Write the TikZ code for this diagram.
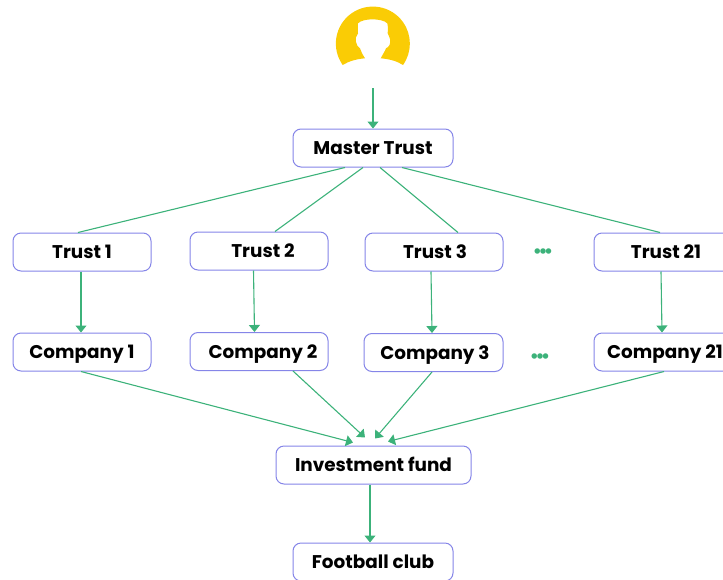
\documentclass[tikz,border=0pt]{standalone}
\usepackage{xcolor}
\usepackage{fontspec}
\setmainfont{Poppins}
\usetikzlibrary{arrows.meta,positioning}
\definecolor{ownergold}{HTML}{FACC05}
\definecolor{linkgreen}{HTML}{3CB27A}
\definecolor{boxviolet}{HTML}{8585E8}
\tikzset{
    entity/.style={draw=boxviolet, fill=white, rounded corners=8pt, line width=1pt, minimum height=38pt, inner sep=0pt, text height=13.5pt, text depth=0pt, font=\fontsize{18.4}{20}\selectfont\bfseries, text=black},
    link/.style={draw=linkgreen, line width=1.1pt},
    flow/.style={link, -{Triangle[width=11pt,length=7pt]}},
    more/.style={text=linkgreen, inner sep=0pt, font=\fontsize{18}{20}\selectfont\bfseries}
}
\begin{document}
\begin{tikzpicture}[x=1pt,y=-1pt]

            \clip (0,0) rectangle (723,579);

            % owner icon
            \fill[ownergold] (342.7,65) arc (144.6:395.4:37)
                .. controls (397,61) and (389,59) .. (380.7,58.3)
                .. controls (383,54) and (385,51) .. (386,48.3)
                .. controls (389,47) and (391,44) .. (390,39)
                .. controls (389.5,36) and (388,35) .. (387.7,33.3)
                .. controls (388,30) and (388,26) .. (387.3,23.3)
                .. controls (382,18) and (363,18) .. (358,23.3)
                .. controls (357.5,26) and (358,30) .. (358,33.3)
                .. controls (356,36) and (355,39) .. (356,42)
                .. controls (356.5,45) and (358,47) .. (360,48.3)
                .. controls (361,52) and (363,55) .. (365,58.3)
                .. controls (357,59) and (349,61) .. (342.7,65) -- cycle;

            \coordinate (owner) at (373,88);

            \node[entity, minimum width=160pt] (master) at (373,148) {Master Trust};

            \node[entity, minimum width=138pt] (t1) at (82,252) {Trust 1};
            \node[entity, minimum width=138pt] (t2) at (259,251) {\hspace*{8pt}Trust 2};
            \node[entity, minimum width=138pt] (t3) at (434,252) {\hspace*{2pt}Trust 3};
            \node[entity, minimum width=138pt] (t21) at (663,252) {\hspace*{6pt}Trust 21};

            \node[entity, minimum width=138pt] (c1) at (82,352) {Company 1};
            \node[entity, minimum width=138pt] (c2) at (259,351.5) {\hspace*{8pt}Company 2};
            \node[entity, minimum width=139pt] (c3) at (433.5,352.5) {\hspace*{3pt}Company 3};
            \node[entity, minimum width=138pt] (c21) at (663,352) {\hspace*{4pt}Company 21};

            \node[entity, minimum width=195pt] (fund) at (373.5,465) {Investment fund};
            \node[entity, minimum width=160pt] (club) at (373,562) {Football club};

            \node[more] (more1) at (543,253.5) {•\hspace{-3.4pt}•\hspace{-3.4pt}•};
            \node[more] (more2) at (540,358.5) {•\hspace{-3.4pt}•\hspace{-3.4pt}•};

            \draw[flow] (owner) -- (master.north);

            \draw[link] ([xshift=-28pt]master.south) -- ([xshift=-4pt]t1.north);
            \draw[link] ([xshift=-10pt]master.south) -- ([xshift=16pt]t2.north);
            \draw[link] ([xshift=7pt]master.south) -- ([xshift=24pt]t3.north);
            \draw[link] ([xshift=29pt]master.south) -- ([xshift=-3pt]t21.north);

            \draw[flow] ([xshift=-1pt]t1.south) -- ([xshift=-1pt]c1.north);
            \draw[flow] ([xshift=-5.5pt]t2.south) -- ([xshift=-4.5pt]c2.north);
            \draw[flow] ([xshift=-3pt]t3.south) -- ([xshift=-1.5pt]c3.north);
            \draw[flow] ([xshift=-2pt]t21.south) -- ([xshift=-1pt]c21.north);

            \draw[flow] ([xshift=-1pt]c1.south) -- ([xshift=-20.5pt,yshift=3pt]fund.north);
            \draw[flow] ([xshift=34pt]c2.south) -- ([xshift=-8.5pt,yshift=8pt]fund.north);
            \draw[flow] ([xshift=-1.5pt]c3.south) -- ([xshift=1.5pt,yshift=7pt]fund.north);
            \draw[flow] ([xshift=1pt]c21.south) -- ([xshift=14.5pt,yshift=4pt]fund.north);

            \draw[flow] ([xshift=-3.5pt]fund.south) -- ([xshift=-3pt]club.north);

\end{tikzpicture}
\end{document}
